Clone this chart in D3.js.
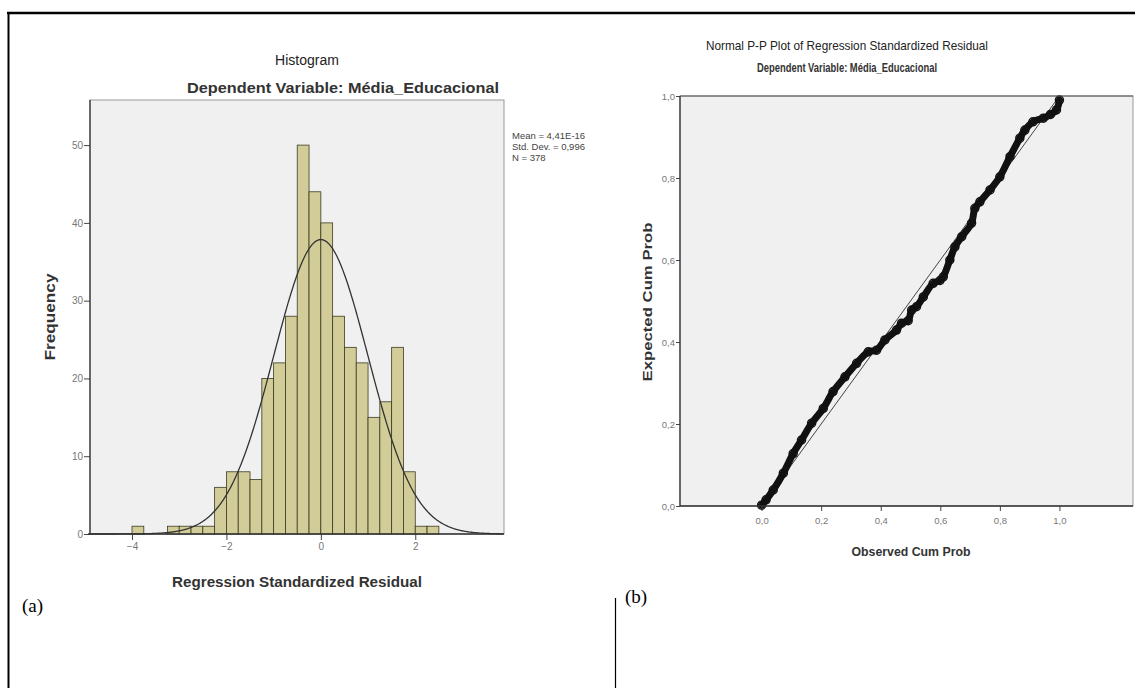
<!DOCTYPE html>
<html><head><meta charset="utf-8">
<script src="https://cdn.jsdelivr.net/npm/d3@7"></script>
<style>body{margin:0;background:#fff}svg{display:block}</style>
</head><body>
<svg id="c" width="1135" height="688"></svg>
<script>
// ---------- Histogram data ----------
const binStarts = [-4, -3.25, -3, -2.75, -2.5, -2.25, -2, -1.75, -1.5, -1.25, -1, -0.75, -0.5, -0.25, 0, 0.25, 0.5, 0.75, 1, 1.25, 1.5, 1.75, 2, 2.25];
const binCounts = [1, 1, 1, 1, 1, 6, 8, 8, 7, 20, 22, 28, 50, 44, 40, 28, 24, 22, 15, 17, 24, 8, 1, 1];
const binWidth = 0.25;
const histXTicks = [-4, -2, 0, 2];
const histYTicks = [0, 10, 20, 30, 40, 50];
const statLabels = ["Mean = 4,41E-16", "Std. Dev. = 0,996", "N = 378"];
const statMean = [4.41e-16];
const statSd = [0.996];
const statN = [378];

// ---------- P-P plot data (observed, expected) ----------
const ppObserved = [0.000,0.015,0.039,0.073,0.106,0.134,0.168,0.207,0.240,0.280,0.319,0.358,0.386,0.414,0.453,0.470,0.492,0.504,0.520,0.543,0.576,0.599,0.610,0.632,0.649,0.672,0.705,0.716,0.733,0.767,0.800,0.834,0.867,0.884,0.911,0.946,0.970,0.990,1.000];
const ppExpected = [0.002,0.015,0.039,0.080,0.128,0.161,0.202,0.238,0.279,0.315,0.348,0.376,0.380,0.405,0.429,0.446,0.452,0.478,0.486,0.510,0.543,0.550,0.559,0.600,0.632,0.657,0.690,0.726,0.742,0.771,0.803,0.852,0.897,0.917,0.937,0.946,0.955,0.966,0.990];
const ppTicks = [0, 0.2, 0.4, 0.6, 0.8, 1.0];

const svg = d3.select("#c");
const fmtComma = d => d3.format(".1f")(d).replace(".", ",");
const SANS = "Liberation Sans, Arial, sans-serif";

// ---------- outer frame ----------
svg.append("line").attr("x1",7).attr("x2",1135).attr("y1",13).attr("y2",13).attr("stroke","#000").attr("stroke-width",2.5);
svg.append("line").attr("x1",8.5).attr("x2",8.5).attr("y1",12).attr("y2",688).attr("stroke","#000").attr("stroke-width",2);
svg.append("line").attr("x1",615.5).attr("x2",615.5).attr("y1",598).attr("y2",688).attr("stroke","#000").attr("stroke-width",1.2);
svg.append("text").attr("x",22).attr("y",612).attr("font-family","Liberation Serif, serif").attr("font-size",19).text("(a)");
svg.append("text").attr("x",625).attr("y",603).attr("font-family","Liberation Serif, serif").attr("font-size",19).text("(b)");

// ---------- Histogram ----------
const hx = d3.scaleLinear().domain([-4.89, 3.88]).range([90, 504]);
const hy = d3.scaleLinear().domain([0, 55.8]).range([534, 100]);
const H = svg.append("g");
H.append("rect").attr("x",90).attr("y",100).attr("width",414).attr("height",434).attr("fill","#f0f0f0").attr("stroke","#999").attr("stroke-width",1);

H.selectAll("rect.bar").data(binStarts).enter().append("rect").attr("class","bar")
  .attr("x", d => hx(d)).attr("width", d => hx(d + binWidth) - hx(d))
  .attr("y", (d,i) => hy(binCounts[i])).attr("height", (d,i) => hy(0) - hy(binCounts[i]))
  .attr("fill","#d2cd98").attr("stroke","#3a3a22").attr("stroke-width",0.8);

// fitted normal curve from the stated mean, sd and N
const curveXs = d3.range(-4.89, 3.881, 0.02);
const dens = x => statN[0]*binWidth/(statSd[0]*Math.sqrt(2*Math.PI))*Math.exp(-0.5*Math.pow((x-statMean[0])/statSd[0],2));
H.append("path").datum(curveXs).attr("fill","none").attr("stroke","#333").attr("stroke-width",1.3)
  .attr("d", d3.line().x(d => hx(d)).y(d => hy(dens(d))));

const hxAxis = d3.axisBottom(hx).tickValues(histXTicks).tickSize(6).tickFormat(d3.format("d"));
const gx = H.append("g").attr("transform","translate(0,534)").call(hxAxis);
const hyAxis = d3.axisLeft(hy).tickValues(histYTicks).tickSize(6);
const gy = H.append("g").attr("transform","translate(90,0)").call(hyAxis);
[gx, gy].forEach(g => {
  g.select(".domain").remove();
  g.selectAll(".tick line").attr("stroke","#444");
  g.selectAll(".tick text").attr("fill","#777").attr("font-family",SANS).attr("font-size",10);
});
gy.selectAll(".tick text").attr("x",-7);
H.append("line").attr("x1",90).attr("x2",90).attr("y1",100).attr("y2",534).attr("stroke","#333").attr("stroke-width",1.3);
H.append("line").attr("x1",88).attr("x2",504).attr("y1",534).attr("y2",534).attr("stroke","#333").attr("stroke-width",1.3);

H.append("text").attr("x",307).attr("y",65).attr("text-anchor","middle").attr("font-family",SANS).attr("font-size",14).attr("fill","#222").text("Histogram");
H.append("text").attr("x",343).attr("y",93).attr("text-anchor","middle").attr("font-family",SANS).attr("font-size",15).attr("font-weight","bold").attr("fill","#333")
  .attr("textLength",312).attr("lengthAdjust","spacingAndGlyphs").text("Dependent Variable: Média_Educacional");
H.append("text").attr("x",297).attr("y",587).attr("text-anchor","middle").attr("font-family",SANS).attr("font-size",14).attr("font-weight","bold").attr("fill","#333")
  .attr("textLength",250).attr("lengthAdjust","spacingAndGlyphs").text("Regression Standardized Residual");
H.append("text").attr("transform","translate(55,317) rotate(-90)").attr("text-anchor","middle").attr("font-family",SANS).attr("font-size",14).attr("font-weight","bold").attr("fill","#333")
  .attr("textLength",87).attr("lengthAdjust","spacingAndGlyphs").text("Frequency");
H.selectAll("text.stat").data(statLabels).enter().append("text").attr("class","stat")
  .attr("x",512).attr("y",(d,i) => 139 + i*11).attr("font-family",SANS).attr("font-size",9.5).attr("fill","#444").text(d => d);

// ---------- P-P plot ----------
const px = d3.scaleLinear().domain([-0.274, 1.247]).range([680, 1133]);
const py = d3.scaleLinear().domain([0, 1]).range([506, 96]);
const P = svg.append("g");
P.append("rect").attr("x",680).attr("y",96).attr("width",453).attr("height",410).attr("fill","#f0f0f0").attr("stroke","#999").attr("stroke-width",1);
P.append("line").attr("x1",px(0)).attr("y1",py(0)).attr("x2",px(1)).attr("y2",py(1)).attr("stroke","#444").attr("stroke-width",1);
const pts = ppObserved.map((o,i) => [o, ppExpected[i]]);
P.append("path").datum(pts).attr("fill","none").attr("stroke","#111").attr("stroke-width",7).attr("stroke-linejoin","round").attr("stroke-linecap","round")
  .attr("d", d3.line().curve(d3.curveCatmullRom).x(d => px(d[0])).y(d => py(d[1])));
P.selectAll("circle").data(pts).enter().append("circle").attr("cx", d => px(d[0])).attr("cy", d => py(d[1])).attr("r",4)
  .attr("fill","none").attr("stroke","#111").attr("stroke-width",1.5);

const pxAxis = d3.axisBottom(px).tickValues(ppTicks).tickSize(5).tickFormat(fmtComma);
const pgx = P.append("g").attr("transform","translate(0,506)").call(pxAxis);
const pyAxis = d3.axisLeft(py).tickValues(ppTicks).tickSize(4).tickFormat(fmtComma);
const pgy = P.append("g").attr("transform","translate(680,0)").call(pyAxis);
[pgx, pgy].forEach(g => {
  g.select(".domain").remove();
  g.selectAll(".tick line").attr("stroke","#444");
  g.selectAll(".tick text").attr("fill","#777").attr("font-family",SANS).attr("font-size",9.5);
});
pgx.selectAll(".tick text").attr("y",11);
pgy.selectAll(".tick text").attr("x",-5);
P.append("line").attr("x1",680).attr("x2",680).attr("y1",96).attr("y2",506).attr("stroke","#333").attr("stroke-width",1.3);
P.append("line").attr("x1",680).attr("x2",1133).attr("y1",506).attr("y2",506).attr("stroke","#333").attr("stroke-width",1.3);
P.append("line").attr("x1",680).attr("x2",1133).attr("y1",96).attr("y2",96).attr("stroke","#555").attr("stroke-width",1.2);

P.append("text").attr("x",847).attr("y",50).attr("text-anchor","middle").attr("font-family",SANS).attr("font-size",13).attr("fill","#222")
  .attr("textLength",282).attr("lengthAdjust","spacingAndGlyphs").text("Normal P-P Plot of Regression Standardized Residual");
P.append("text").attr("x",847).attr("y",72).attr("text-anchor","middle").attr("font-family",SANS).attr("font-size",13).attr("font-weight","bold").attr("fill","#333")
  .attr("textLength",180).attr("lengthAdjust","spacingAndGlyphs").text("Dependent Variable: Média_Educacional");
P.append("text").attr("x",911).attr("y",556).attr("text-anchor","middle").attr("font-family",SANS).attr("font-size",13).attr("font-weight","bold").attr("fill","#333")
  .attr("textLength",119).attr("lengthAdjust","spacingAndGlyphs").text("Observed Cum Prob");
P.append("text").attr("transform","translate(652,302) rotate(-90)").attr("text-anchor","middle").attr("font-family",SANS).attr("font-size",13).attr("font-weight","bold").attr("fill","#333")
  .attr("textLength",159).attr("lengthAdjust","spacingAndGlyphs").text("Expected Cum Prob");
</script>
</body></html>
